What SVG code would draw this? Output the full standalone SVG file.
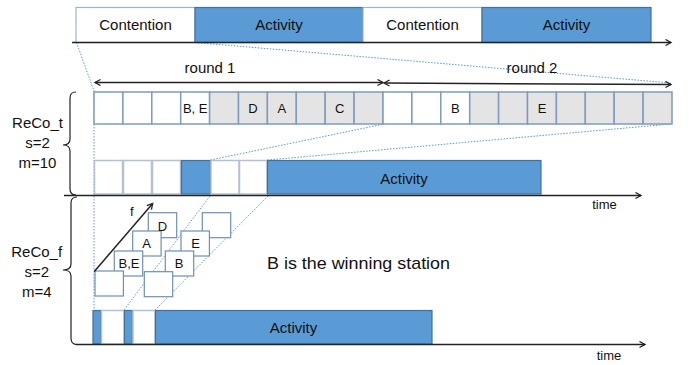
<svg xmlns="http://www.w3.org/2000/svg" width="689" height="365" viewBox="0 0 689 365">
  <style>
    text { font-family: "Liberation Sans", Arial, sans-serif; fill: #111; }
    .lbl { font-size: 15px; text-anchor: middle; }
    .small { font-size: 13px; text-anchor: middle; }
    .cont { fill: #ffffff; stroke: #9fb4cc; stroke-width: 1.2; }
    .act { fill: #5b9bd5; stroke: #41719c; stroke-width: 1.2; }
    .cell { fill: #ffffff; stroke: #7f9cbd; stroke-width: 1.5; }
    .gray { fill: #e4e4e4; stroke: #7f9cbd; stroke-width: 1.5; }
    .slot { fill: #ffffff; stroke: #b3c2d3; stroke-width: 1.5; }
    .tile { fill: #ffffff; stroke: #6d8fb5; stroke-width: 1.2; }
    .axis { stroke: #222; stroke-width: 1.5; fill: none; }
    .dot { stroke: #5b9bd5; stroke-width: 1; stroke-dasharray: 1.5 1.5; fill: none; }
    .brace { stroke: #222; stroke-width: 1.2; fill: none; }
  </style>
  <defs>
    <marker id="chev" markerUnits="userSpaceOnUse" markerWidth="8" markerHeight="8" refX="6" refY="3.5" orient="auto-start-reverse">
      <path d="M0.5,0.5 L6,3.5 L0.5,6.5" fill="none" stroke="#222" stroke-width="1.3"/>
    </marker>
  </defs>

  <!-- overview timeline -->
  <g id="overview">
    <rect class="cont" x="76" y="7.5" width="119" height="35"/>
    <rect class="act" x="195" y="7.5" width="168" height="35"/>
    <rect class="cont" x="363" y="7.5" width="119" height="35"/>
    <rect class="act" x="482" y="7.5" width="169" height="35"/>
    <text class="lbl" x="135.5" y="30">Contention</text>
    <text class="lbl" x="279" y="30">Activity</text>
    <text class="lbl" x="422.5" y="30">Contention</text>
    <text class="lbl" x="566.5" y="30">Activity</text>
  </g>

  <!-- zoom guides -->
  <g id="guides">
    <path class="dot" d="M76.5,42.5 L94,91"/>
    <path class="dot" d="M195,42.5 L671,83"/>
    <path class="dot" d="M94,91 L94,310"/>
    <path class="dot" d="M210.5,160 L384,124"/>
    <path class="dot" d="M267.5,160 L671,124"/>
    <path class="dot" d="M210,196 L124,310"/>
    <path class="dot" d="M268,196 L155,310"/>
  </g>

  <!-- round spans -->
  <g id="rounds">
    <line class="axis" x1="95" y1="82.5" x2="383" y2="82.5" marker-start="url(#chev)" marker-end="url(#chev)"/>
    <line class="axis" x1="384" y1="83" x2="671" y2="84.5" marker-start="url(#chev)" marker-end="url(#chev)"/>
    <text class="lbl" x="210" y="73">round 1</text>
    <text class="lbl" x="532" y="73">round 2</text>
  </g>

  <!-- ReCo_t slot row -->
  <g id="reco-t-slots">
    <rect class="cell" x="94" y="92" width="28.9" height="32"/>
    <rect class="cell" x="122.9" y="92" width="28.9" height="32"/>
    <rect class="cell" x="151.8" y="92" width="28.9" height="32"/>
    <rect class="cell" x="180.7" y="92" width="28.9" height="32"/>
    <rect class="gray" x="209.6" y="92" width="28.9" height="32"/>
    <rect class="gray" x="238.5" y="92" width="28.9" height="32"/>
    <rect class="gray" x="267.4" y="92" width="28.9" height="32"/>
    <rect class="gray" x="296.3" y="92" width="28.9" height="32"/>
    <rect class="gray" x="325.2" y="92" width="28.9" height="32"/>
    <rect class="gray" x="354.1" y="92" width="28.9" height="32"/>
    <rect class="cell" x="383" y="92" width="28.9" height="32"/>
    <rect class="cell" x="411.9" y="92" width="28.9" height="32"/>
    <rect class="cell" x="440.8" y="92" width="28.9" height="32"/>
    <rect class="gray" x="469.7" y="92" width="28.9" height="32"/>
    <rect class="gray" x="498.6" y="92" width="28.9" height="32"/>
    <rect class="gray" x="527.5" y="92" width="28.9" height="32"/>
    <rect class="gray" x="556.4" y="92" width="28.9" height="32"/>
    <rect class="gray" x="585.3" y="92" width="28.9" height="32"/>
    <rect class="gray" x="614.2" y="92" width="28.9" height="32"/>
    <rect class="gray" x="643.1" y="92" width="28.9" height="32"/>
    <text class="small" x="195.2" y="113">B, E</text>
    <text class="small" x="253" y="113">D</text>
    <text class="small" x="281.9" y="113">A</text>
    <text class="small" x="339.7" y="113">C</text>
    <text class="small" x="455.3" y="113">B</text>
    <text class="small" x="542" y="113">E</text>
  </g>

  <!-- ReCo_t resulting timeline -->
  <g id="reco-t-timeline">
    <rect class="slot" x="94.5" y="160.5" width="28" height="33.5"/>
    <rect class="slot" x="123.5" y="160.5" width="28" height="33.5"/>
    <rect class="slot" x="152.5" y="160.5" width="28" height="33.5"/>
    <rect class="act" x="181.5" y="160.5" width="29" height="33.5"/>
    <rect class="slot" x="211" y="160.5" width="28" height="33.5"/>
    <rect class="slot" x="239.5" y="160.5" width="27.5" height="33.5"/>
    <rect class="act" x="267.5" y="160.5" width="273.5" height="33.5"/>
    <text class="lbl" x="404" y="183.5">Activity</text>
  </g>

  <!-- ReCo_f frequency tiles -->
  <g id="reco-f-tiles">
    <rect class="tile" x="148.3" y="212.7" width="28.4" height="25"/>
    <rect class="tile" x="132.7" y="231" width="28.4" height="25"/>
    <rect class="tile" x="114.3" y="251" width="28.4" height="25"/>
    <rect class="tile" x="95" y="271" width="28.4" height="25"/>
    <rect class="tile" x="202.3" y="212.7" width="28.4" height="25"/>
    <rect class="tile" x="181" y="231" width="28.4" height="25"/>
    <rect class="tile" x="165.3" y="251" width="28.4" height="25"/>
    <rect class="tile" x="144.3" y="271.7" width="28.4" height="25"/>
    <text class="small" x="162.5" y="231">D</text>
    <text class="small" x="146.7" y="248">A</text>
    <text class="small" x="129" y="268">B,E</text>
    <text class="small" x="195.7" y="248">E</text>
    <text class="small" x="179" y="268">B</text>
    <line class="axis" x1="94.3" y1="271.5" x2="152.7" y2="203.5" stroke-width="1.2" marker-end="url(#chev)"/>
    <text class="small" x="131.7" y="216">f</text>
  </g>

  <text id="winner" x="267" y="269" style="font-size:17px" textLength="183" lengthAdjust="spacingAndGlyphs">B is the winning station</text>

  <!-- ReCo_f resulting timeline -->
  <g id="reco-f-timeline">
    <rect class="act" x="93" y="310.5" width="8" height="33.5"/>
    <rect class="slot" x="101.5" y="310.5" width="22.5" height="33.5"/>
    <rect class="act" x="124.5" y="310.5" width="8" height="33.5"/>
    <rect class="slot" x="133" y="310.5" width="22" height="33.5"/>
    <rect class="act" x="155.5" y="310.5" width="276.5" height="33.5"/>
    <text class="lbl" x="293.5" y="332.5">Activity</text>
  </g>

  <!-- axes -->
  <g id="axes">
    <line class="axis" x1="72" y1="42.5" x2="671" y2="42.5" marker-end="url(#chev)"/>
    <line class="axis" x1="64" y1="195.5" x2="641" y2="195.5" marker-end="url(#chev)"/>
    <line class="axis" x1="76" y1="344.5" x2="645" y2="344.5" marker-end="url(#chev)"/>
    <text class="small" x="604.5" y="208.5">time</text>
    <text class="small" x="609" y="360">time</text>
  </g>

  <!-- braces and scheme labels -->
  <g id="reco-t-label">
    <path class="brace" d="M76,92 Q70,92 70,98 L70,139 Q70,145 63,145 Q70,145 70,151 L70,189 Q70,195 76,195"/>
    <text class="lbl" x="37.5" y="128">ReCo_t</text>
    <text class="lbl" x="37.5" y="148">s=2</text>
    <text class="lbl" x="37.5" y="168">m=10</text>
  </g>
  <g id="reco-f-label">
    <path class="brace" d="M77,197 Q71,197 71,203 L71,264 Q71,270 63,270 Q71,270 71,276 L71,338 Q71,344.5 77,344.5"/>
    <text class="lbl" x="36.7" y="257">ReCo_f</text>
    <text class="lbl" x="36.7" y="277">s=2</text>
    <text class="lbl" x="36.7" y="297">m=4</text>
  </g>
</svg>
